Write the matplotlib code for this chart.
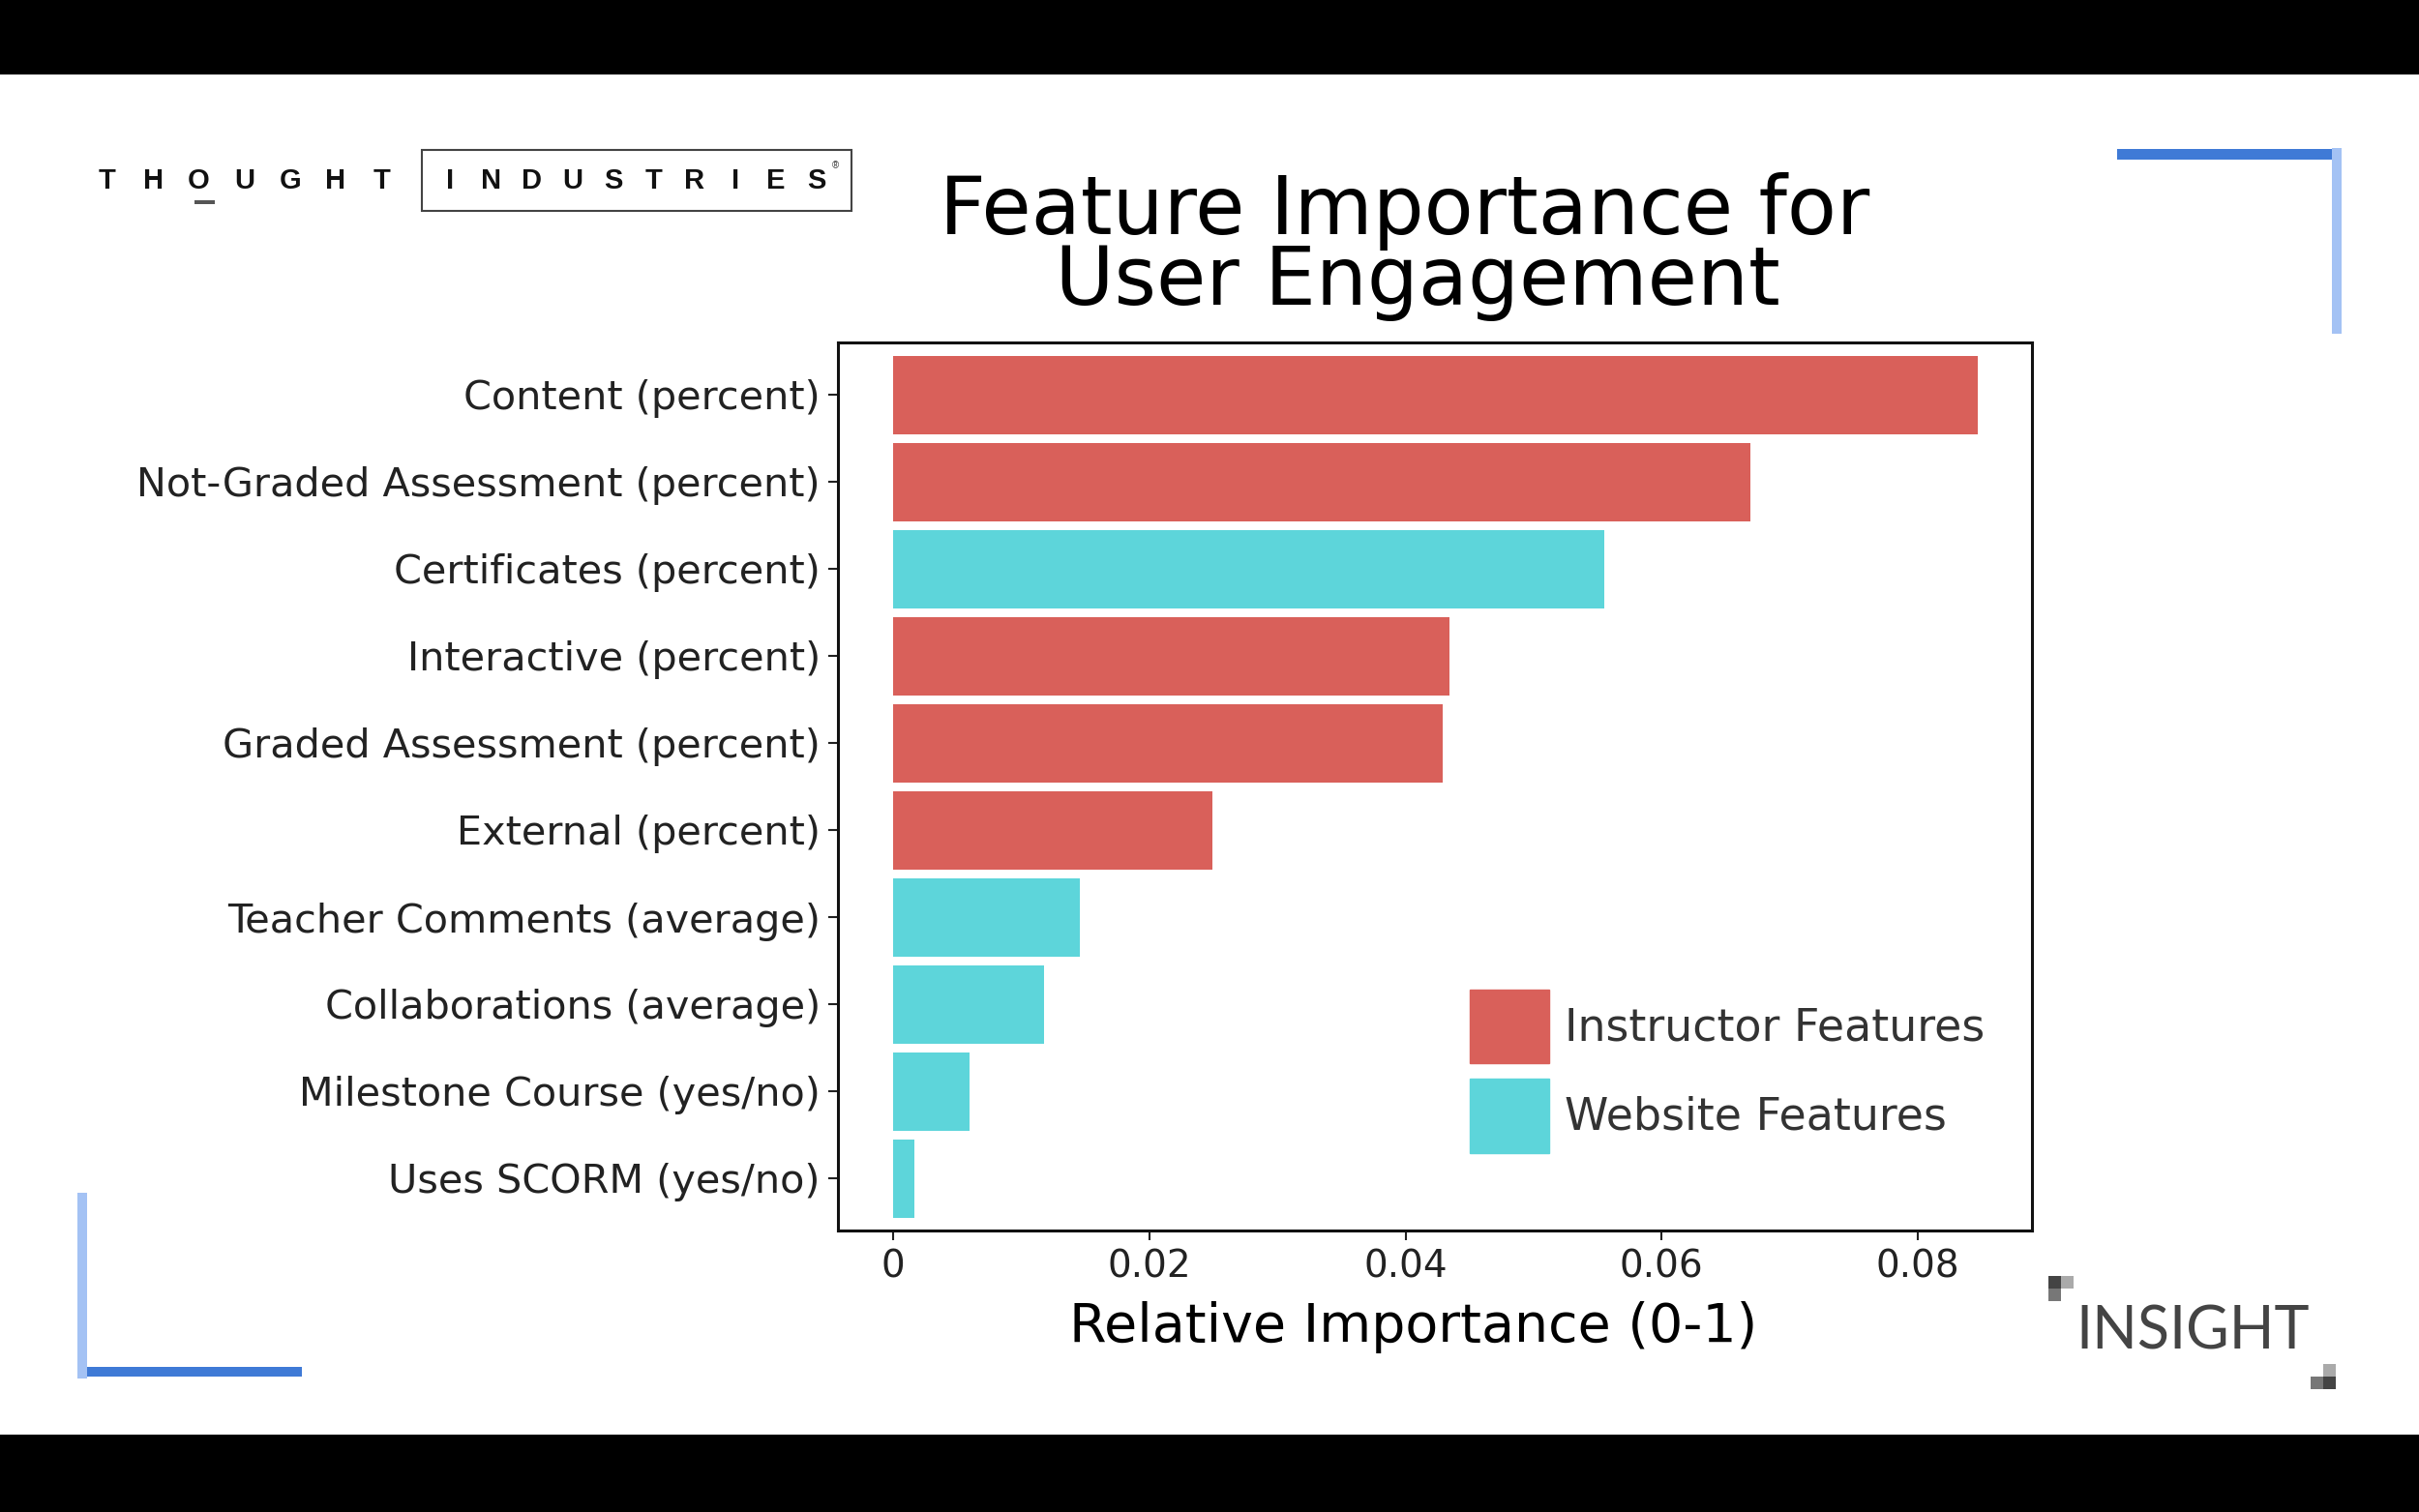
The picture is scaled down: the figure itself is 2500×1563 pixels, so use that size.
"""Feature importance bar chart (slide recreation)."""
import matplotlib
matplotlib.use("Agg")
import matplotlib.pyplot as plt
from matplotlib.patches import Patch, Rectangle

# data, top to bottom
features = ["Content (percent)", "Not-Graded Assessment (percent)",
            "Certificates (percent)", "Interactive (percent)",
            "Graded Assessment (percent)", "External (percent)",
            "Teacher Comments (average)", "Collaborations (average)",
            "Milestone Course (yes/no)", "Uses SCORM (yes/no)"]
importance = [0.0847, 0.0669, 0.0555, 0.0434, 0.0429, 0.0249,
              0.0146, 0.0118, 0.0060, 0.0017]
group = ["Instructor", "Instructor", "Website", "Instructor", "Instructor",
         "Instructor", "Website", "Website", "Website", "Website"]
xticks = [0, 0.02, 0.04, 0.06, 0.08]
xtick_labels = ["0", "0.02", "0.04", "0.06", "0.08"]

RED = "#d9605a"
CYAN = "#5dd5da"
colors = [RED if g == "Instructor" else CYAN for g in group]

W, H = 2500, 1563
fig = plt.figure(figsize=(25, 15.63), dpi=100)
fig.patch.set_facecolor("white")

# slide decoration: black letterbox bars, blue corner brackets
def px_rect(x0, y0, x1, y1, color):
    fig.patches.append(Rectangle((x0 / W, 1 - y1 / H), (x1 - x0) / W, (y1 - y0) / H,
                                 transform=fig.transFigure, color=color, lw=0))

px_rect(0, 0, W, 77, "black")
px_rect(0, 1483, W, H, "black")
px_rect(2188, 154, 2410, 165, "#3f7ad6")
px_rect(2410, 153, 2420, 345, "#a4c2f4")
px_rect(80, 1233, 90, 1425, "#a4c2f4")
px_rect(90, 1413, 312, 1423, "#3f7ad6")

# Thought Industries logo
for i, ch in enumerate("THOUGHT"):
    fig.text((111 + i * 47.2) / W, 1 - 187 / H, ch, ha="center", va="center",
             fontsize=21, fontweight="bold", family="Liberation Sans", color="#111")
px_rect(201, 207, 222, 211, "#555")
fig.patches.append(Rectangle((436 / W, 1 - 218 / H), (880 - 436) / W, (218 - 155) / H,
                             transform=fig.transFigure, fill=False, ec="#444", lw=1.5))
for i, ch in enumerate("INDUSTRIES"):
    fig.text((465 + i * 42.1) / W, 1 - 187 / H, ch, ha="center", va="center",
             fontsize=21, fontweight="bold", family="Liberation Sans", color="#111")
fig.text(863 / W, 1 - 171 / H, "®", ha="center", va="center", fontsize=7,
         family="Liberation Sans", color="#333")

# Insight logo
fig.text(2145 / W, 1 - 1377 / H, "INSIGHT", ha="left", va="center",
         fontsize=44, family="Lato", fontweight="normal", color="#444")
for (x, y, c) in [(2117, 1319, "#444"), (2130, 1319, "#aaa"), (2117, 1332, "#777"),
                  (2401, 1410, "#aaa"), (2388, 1423, "#777"), (2401, 1423, "#444")]:
    px_rect(x, y, x + 13, y + 13, c)

# title (leading space on 2nd line shifts it right like the original)
fig.text(1452 / W, 1 - 255 / H, "Feature Importance for\n User Engagement",
         ha="center", va="center", multialignment="center", linespacing=0.88,
         fontsize=60, color="black")

ax = fig.add_axes([866 / W, 1 - 1272 / H, (2100 - 866) / W, (1272 - 354) / H])
y = list(range(len(features)))
ax.barh(y, importance, height=0.9, color=colors)
ax.set_ylim(len(features) - 0.4, -0.6)
ax.set_xlim(-0.0043, 0.0889)
ax.set_yticks(y)
ax.set_yticklabels(features, fontsize=29.8, color="#222")
ax.set_xticks(xticks)
ax.set_xticklabels(xtick_labels, fontsize=28, color="#222")
ax.tick_params(axis="both", length=7, width=1.5, pad=6, color="#222")
for s in ax.spines.values():
    s.set_linewidth(2.2)
    s.set_color("#111")
ax.set_xlabel("Relative Importance (0-1)", fontsize=40, color="black")
ax.xaxis.set_label_coords(0.482, -0.079)

handles = [Patch(color=RED, label="Instructor Features"),
           Patch(color=CYAN, label="Website Features")]
fig.legend(handles=handles, loc="upper left", bbox_to_anchor=(1519 / W, 1 - 1023 / H),
           frameon=False, fontsize=33, handlelength=1.78, handleheight=2.19,
           handletextpad=0.35, labelspacing=0.34, borderpad=0, borderaxespad=0,
           labelcolor="#333")

fig.savefig("out.png", dpi=100, facecolor="white")
